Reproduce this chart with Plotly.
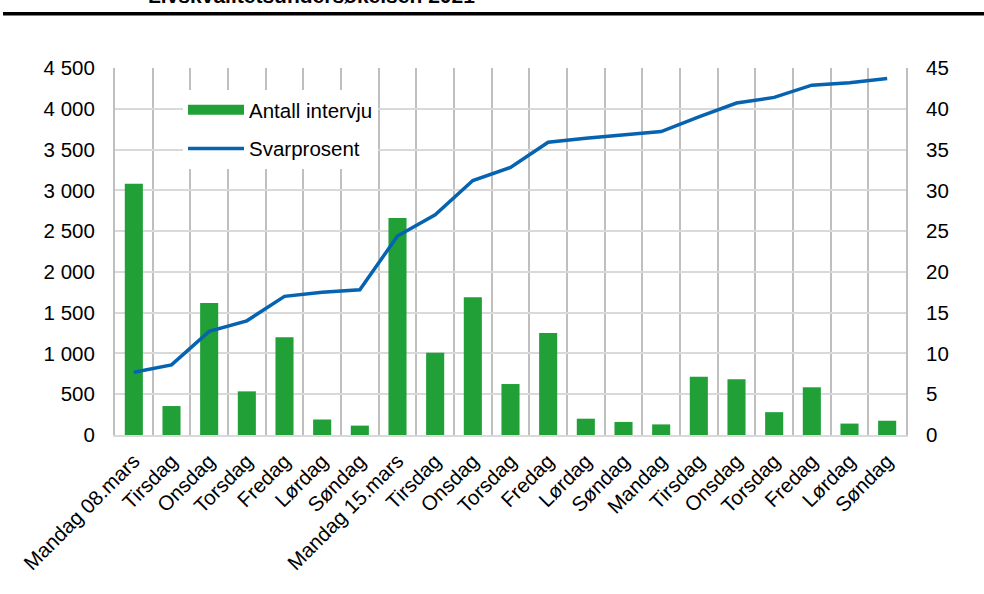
import plotly.graph_objects as go

days = ["Mandag 08.mars", "Tirsdag", "Onsdag", "Torsdag", "Fredag", "Lørdag", "Søndag",
        "Mandag 15.mars", "Tirsdag", "Onsdag", "Torsdag", "Fredag", "Lørdag", "Søndag",
        "Mandag", "Tirsdag", "Onsdag", "Torsdag", "Fredag", "Lørdag", "Søndag"]
antall_intervju = [3080, 355, 1620, 535, 1200, 190, 115,
                   2660, 1010, 1690, 625, 1250, 200, 160,
                   130, 715, 685, 280, 585, 140, 175]
svarprosent = [7.7, 8.6, 12.7, 14.0, 17.0, 17.5, 17.8,
               24.4, 27.0, 31.2, 32.8, 35.9, 36.4, 36.8,
               37.2, 39.0, 40.7, 41.4, 42.9, 43.2, 43.7]
title_text = "Livskvalitetsundersøkelsen 2021"

xs = list(range(len(days)))
FONT = "Liberation Sans, Arial, sans-serif"
GREEN = "#21a038"
BLUE = "#0563b0"
FS = 20.5

fig = go.Figure()
fig.add_trace(go.Bar(x=xs, y=antall_intervju, name="Antall intervju",
                     marker=dict(color=GREEN, line=dict(width=0)),
                     showlegend=False))
# legend entry for the bars (wide rectangle symbol)
fig.add_trace(go.Scatter(x=[None], y=[None], name="Antall intervju", mode="lines",
                         line=dict(color=GREEN, width=11), legendgroup="a"))
fig.add_trace(go.Scatter(x=xs, y=svarprosent, name="Svarprosent", mode="lines",
                         line=dict(color=BLUE, width=3.5), yaxis="y2",
                         legendgroup="b"))

fig.update_layout(
    width=984, height=594,
    margin=dict(l=115, r=78, t=68, b=159),
    plot_bgcolor="white", paper_bgcolor="white",
    separators=", ",
    font=dict(family=FONT, size=FS, color="black"),
    bargap=0.52,
    showlegend=True,
    legend=dict(x=0.086, y=0.94, xanchor="left", yanchor="top",
                bgcolor="white", font=dict(size=FS), traceorder="grouped",
                tracegroupgap=9, itemwidth=56),
    xaxis=dict(range=[-0.5, len(days) - 0.5], tickmode="array", tickvals=xs, ticktext=days,
               tickangle=-45, showgrid=False, ticks="", ticklabelstandoff=4,
               minor=dict(tick0=0.5, dtick=1, showgrid=True, gridcolor="#bfbfbf", gridwidth=2, ticks=""),
               showline=True, linecolor="#d9d9d9", linewidth=2, zeroline=False,
               tickfont=dict(size=FS)),
    yaxis=dict(range=[0, 4500], dtick=500, tickformat=",d", gridcolor="#d9d9d9", gridwidth=1.5,
               showline=True, linecolor="#bfbfbf", linewidth=2, zeroline=False,
               ticklabelstandoff=14, tickfont=dict(size=FS)),
    yaxis2=dict(range=[0, 45], dtick=5, overlaying="y", side="right", showgrid=False,
                showline=True, linecolor="#bfbfbf", linewidth=2, zeroline=False,
                ticklabelstandoff=14, tickfont=dict(size=FS)),
)

# top rule and (cropped) title
fig.add_shape(type="line", xref="paper", yref="paper",
              x0=-112 / 791, x1=(984 - 115) / 791, y0=(435 - 13.7) / 367, y1=(435 - 13.7) / 367,
              line=dict(color="black", width=3.5))
fig.add_annotation(text="<b>" + title_text + "</b>", xref="paper", yref="paper",
                   x=(146 - 115) / 791, y=(435 - 9) / 367, xanchor="left", yanchor="bottom",
                   showarrow=False, font=dict(size=21, family=FONT, color="black"))

fig.write_html("out.html", config={"displayModeBar": False},
               post_script="document.body.style.margin='0';")
